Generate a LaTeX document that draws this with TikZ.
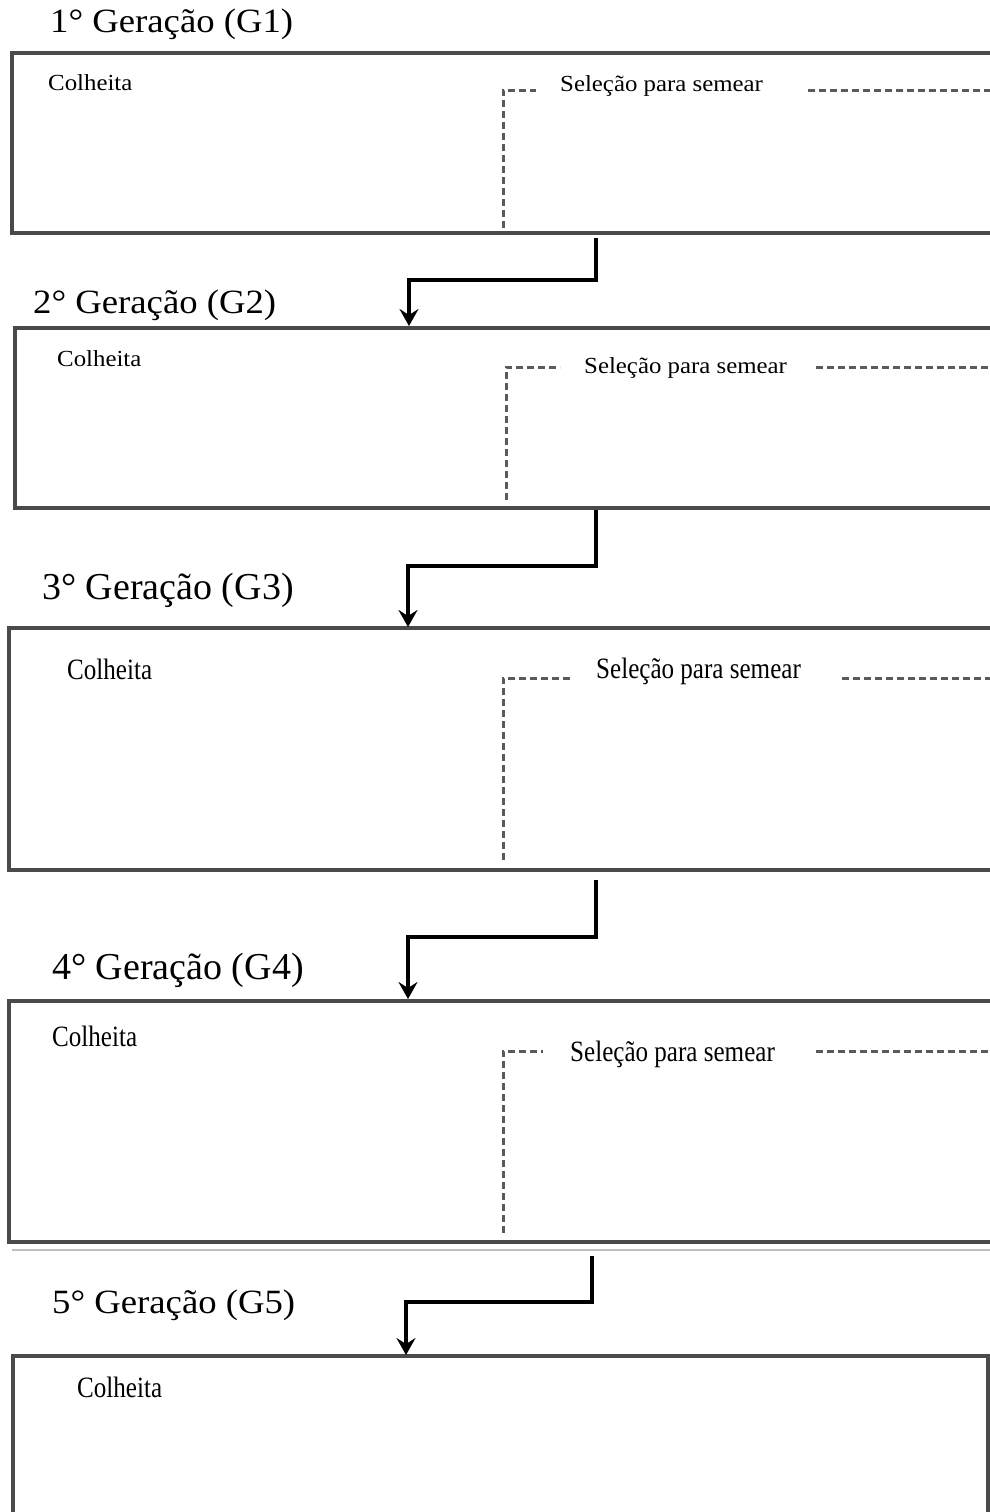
\documentclass[tikz,border=0pt]{standalone}
\usepackage{fontspec}
\setmainfont{Liberation Serif}
\newfontfamily\widefont[FakeStretch=1.08]{Liberation Serif}
\newfontfamily\narrowfont[FakeStretch=0.85]{Liberation Serif}
\usetikzlibrary{arrows.meta}
\definecolor{boxgray}{HTML}{4A4A4A}
\definecolor{dashgray}{HTML}{5A5A5A}
\tikzset{
    gen box/.style = {
        draw = boxgray,
        line width = 3.2pt,
        },
    sel line/.style = {
        draw = dashgray,
        line width = 3pt,
        dash pattern = on 7pt off 4pt,
        },
    flow/.style = {
        draw = black,
        line width = 4pt,
        -{Stealth[length=17pt,width=19pt,inset=6pt]},
        },
    title wide/.style = {
        anchor = base west,
        inner sep = 0pt,
        font = \fontsize{34}{40}\widefont,
        },
    title tall/.style = {
        anchor = base west,
        inner sep = 0pt,
        font = \fontsize{38}{44}\selectfont,
        },
    label wide/.style = {
        anchor = base west,
        inner sep = 0pt,
        font = \fontsize{23}{28}\widefont,
        },
    label tall/.style = {
        anchor = base west,
        inner sep = 0pt,
        font = \fontsize{29.5}{34}\narrowfont,
        },
}

\begin{document}
\begin{tikzpicture}[x=1pt,y=-1pt]
    \useasboundingbox (0,0) rectangle (990,1512);
    \clip (0,0) rectangle (990,1512);

    % generations
    \draw[gen box] (12,53) rectangle (1010,233);
    \draw[gen box] (15,328) rectangle (1010,508);
    \draw[gen box] (9,628) rectangle (1010,870);
    \draw[gen box] (9,1001) rectangle (1010,1242);
    \draw[gen box] (13,1356) rectangle (988,1530);
    \draw[black!25, line width=1.2pt] (12,1250) -- (990,1250);

    \node[title wide] (T1) at (50,33) {1° Geração (G1)};
    \node[title wide] (T2) at (33,313) {2° Geração (G2)};
    \node[title tall] (T3) at (42,599) {3° Geração (G3)};
    \node[title tall] (T4) at (52,979) {4° Geração (G4)};
    \node[title wide] (T5) at (52,1313) {5° Geração (G5)};

    \node[label wide] (C1) at (48,90) {Colheita};
    \node[label wide] (C2) at (57,366) {Colheita};
    \node[label tall] (C3) at (67,679) {Colheita};
    \node[label tall] (C4) at (52,1046) {Colheita};
    \node[label tall] (C5) at (77,1397) {Colheita};

    \node[label wide] (S1) at (560,91) {Seleção para semear};
    \node[label wide] (S2) at (584,373) {Seleção para semear};
    \node[label tall] (S3) at (596,678) {Seleção para semear};
    \node[label tall] (S4) at (570,1061) {Seleção para semear};

    % selection brackets
    \draw[sel line] (503,228) -- (503,90) -- (536,90);
    \draw[sel line] (808,90) -- (990,90);
    \draw[sel line] (506,500) -- (506,367) -- (560,367);
    \draw[sel line] (816,367) -- (990,367);
    \draw[sel line] (503,860) -- (503,678) -- (572,678);
    \draw[sel line] (842,678) -- (990,678);
    \draw[sel line] (503,1233) -- (503,1051) -- (543,1051);
    \draw[sel line] (816,1051) -- (990,1051);

    % next generation
    \coordinate (a1) at (596,238);
    \coordinate (b1) at (409,326);
    \coordinate (a2) at (596,510);
    \coordinate (b2) at (408,627);
    \coordinate (a3) at (596,880);
    \coordinate (b3) at (408,999);
    \coordinate (a4) at (592,1256);
    \coordinate (b4) at (406,1355);
    \draw[flow] (a1) -- (596,280) -| (b1);
    \draw[flow] (a2) -- (596,566) -| (b2);
    \draw[flow] (a3) -- (596,937) -| (b3);
    \draw[flow] (a4) -- (592,1302) -| (b4);
\end{tikzpicture}
\end{document}
